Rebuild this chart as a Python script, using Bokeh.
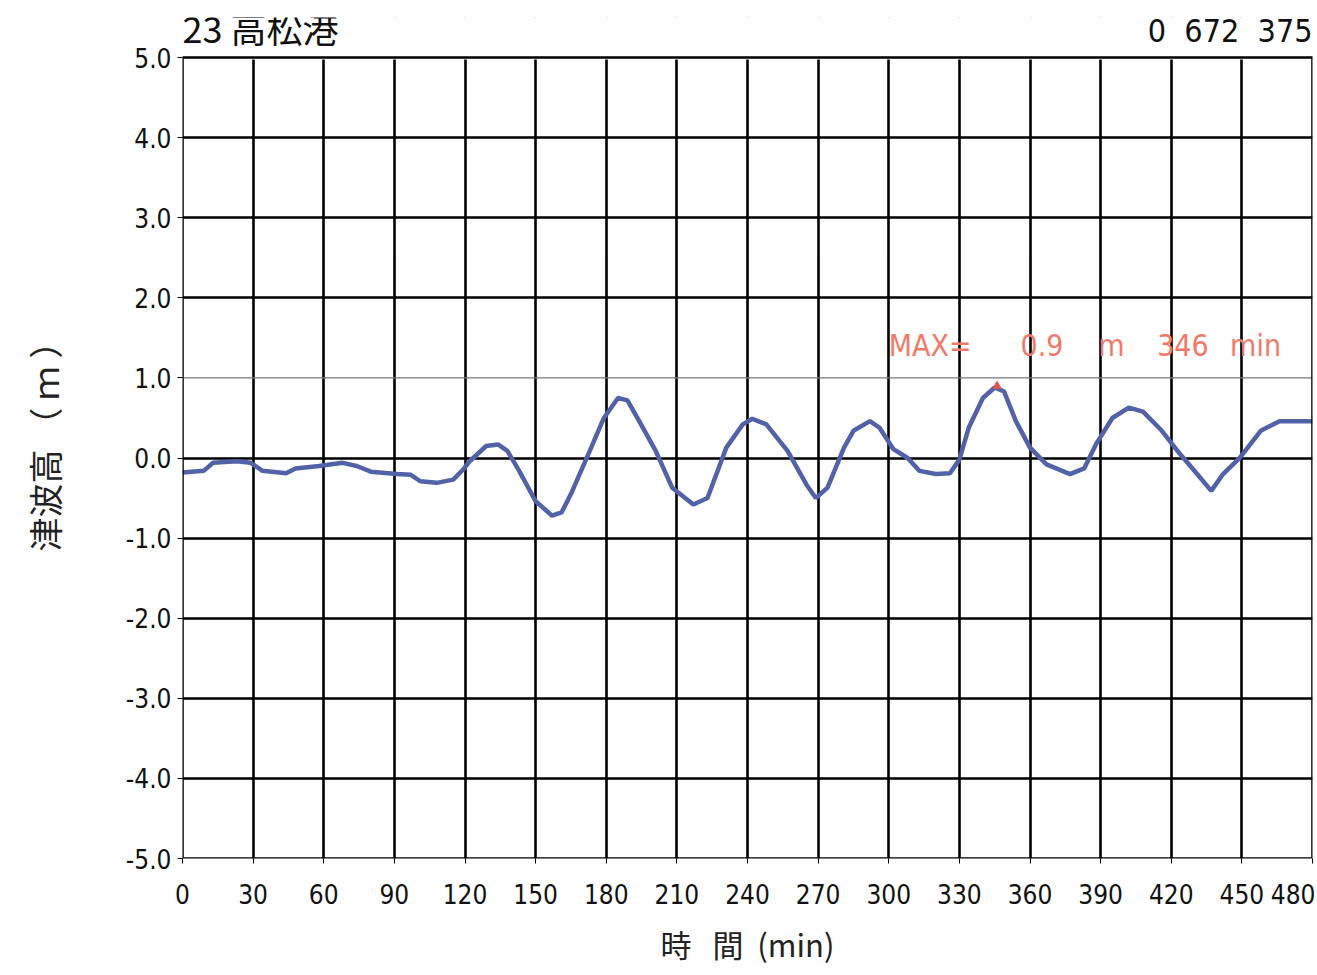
from bokeh.plotting import figure
from bokeh.models import Range1d, FixedTicker, Label, Span, CustomJSTickFormatter, BoxAnnotation
from bokeh.embed import file_html
from bokeh.resources import INLINE

# ---- data ----
time_min = [0, 9, 13, 23, 29, 34, 44, 48, 58, 68, 74, 80, 91, 97, 101, 108, 115, 119, 122,
            129, 134, 138, 143, 150, 157, 161, 165, 173, 179, 185, 189, 194, 201, 208, 217,
            223, 231, 238, 242, 248, 257, 265, 269, 274, 281, 285, 292, 296, 302, 308, 313,
            320, 326, 330, 334, 340, 345, 349, 354, 360, 367, 377, 383, 388, 395, 402, 408,
            416, 424, 431, 437, 442, 449, 458, 466, 480]
height_m = [-0.18, -0.16, -0.06, -0.04, -0.06, -0.16, -0.19, -0.13, -0.10, -0.06, -0.10, -0.17,
            -0.20, -0.21, -0.29, -0.31, -0.27, -0.15, -0.04, 0.15, 0.17, 0.09, -0.16, -0.54,
            -0.72, -0.68, -0.45, 0.09, 0.50, 0.75, 0.72, 0.46, 0.09, -0.37, -0.58, -0.50, 0.13,
            0.42, 0.49, 0.42, 0.09, -0.33, -0.50, -0.37, 0.13, 0.34, 0.46, 0.38, 0.11, 0.0,
            -0.16, -0.20, -0.19, -0.02, 0.38, 0.75, 0.88, 0.83, 0.46, 0.13, -0.08, -0.20, -0.13,
            0.17, 0.50, 0.63, 0.58, 0.34, 0.04, -0.20, -0.41, -0.20, 0.0, 0.34, 0.46, 0.46]
max_time = [346]
max_height = [0.9]
x_ticks = [0, 30, 60, 90, 120, 150, 180, 210, 240, 270, 300, 330, 360, 390, 420, 450, 480]
y_ticks = [-5.0, -4.0, -3.0, -2.0, -1.0, 0.0, 1.0, 2.0, 3.0, 4.0, 5.0]
station_title = "23\u00a0高松港"
station_code = "0\u00a0\u00a0672\u00a0\u00a0375"
max_parts = ["MAX=", "0.9", "m", "346", "min"]
max_part_x = [300, 356, 389, 414, 445]
max_label_y = 1.41

NUM_FONT = "'Liberation Sans Narrow', 'DejaVu Sans Condensed', 'Liberation Sans', sans-serif"
JP_FONT = "'Noto Sans CJK JP', sans-serif"

Y_LO, Y_HI, Y_TOP_PAD = -5.0, 5.0, 5.5
LEFT, RIGHT, TOP, BOTTOM = 182, 3, 17, 110
p = figure(width=1315, height=TOP + 841 + BOTTOM, output_backend="svg", toolbar_location=None,
           x_range=Range1d(0, 480), y_range=Range1d(Y_LO, Y_TOP_PAD),
           min_border_left=LEFT, min_border_right=RIGHT, min_border_top=TOP,
           min_border_bottom=BOTTOM)
p.background_fill_color = "white"
p.border_fill_color = "white"
p.outline_line_color = None

# grid
p.xgrid.ticker = FixedTicker(ticks=x_ticks)
p.ygrid.ticker = FixedTicker(ticks=[t for t in y_ticks if t != 1.0])
for g in (p.xgrid, p.ygrid):
    g.grid_line_color = "black"
    g.grid_line_width = 2.6
    g.grid_line_alpha = 1.0
p.add_layout(Span(location=1.0, dimension="width", line_color="#777777", line_width=1.2))
# white strip hiding grid above the 5.0 line (room for the header texts)
p.add_layout(BoxAnnotation(bottom=Y_HI, fill_color="white", fill_alpha=1.0,
                           line_color="white", line_width=4, line_alpha=1.0))
# chart box
p.add_layout(BoxAnnotation(left=0, right=480, bottom=Y_LO, top=Y_HI, fill_alpha=0,
                           line_color="black", line_width=2.6, line_alpha=1.0))

# axes
p.xaxis.ticker = FixedTicker(ticks=x_ticks)
p.yaxis.ticker = FixedTicker(ticks=y_ticks)
p.yaxis.bounds = (Y_LO, Y_HI)
p.yaxis.formatter = CustomJSTickFormatter(code="return tick.toFixed(1);")
for ax in (p.xaxis, p.yaxis):
    ax.axis_line_color = None
    ax.major_tick_line_color = "black"
    ax.major_tick_in = 0
    ax.major_tick_out = 5
    ax.minor_tick_line_color = None
    ax.major_label_text_font = NUM_FONT
    ax.major_label_text_font_size = "26px"
    ax.major_label_text_color = "#111111"
    ax.axis_label_text_font = JP_FONT
    ax.axis_label_text_font_style = "normal"
    ax.axis_label_text_color = "#222222"
p.xaxis.axis_label_text_font_size = "31px"
p.yaxis.axis_label_text_font_size = "34px"
p.xaxis.major_label_standoff = 20
p.yaxis.major_label_standoff = 6
p.xaxis.axis_label = "時\u00a0\u00a0\u00a0間\u00a0\u00a0(min)"
p.yaxis.axis_label = "津波高\u00a0（\u00a0ｍ\u00a0）"
p.xaxis.axis_label_standoff = 14
p.yaxis.axis_label_standoff = 54

# series
p.line(time_min, height_m, line_color="#5262a8", line_width=4.5)
p.scatter(max_time, max_height, marker="triangle", size=8, color="#e8504a")

# header texts above the box
p.add_layout(Label(x=0, y=Y_HI, y_offset=5, text=station_title, text_font=JP_FONT,
                   text_font_size="36px", text_baseline="bottom", text_align="left",
                   text_color="#111111"))
p.add_layout(Label(x=480, y=Y_HI, y_offset=8, text=station_code, text_font=NUM_FONT,
                   text_font_size="32px", text_baseline="bottom", text_align="right",
                   text_color="#111111"))
for txt, xx in zip(max_parts, max_part_x):
    p.add_layout(Label(x=xx, y=max_label_y, text=txt, text_font=NUM_FONT, text_font_size="30px",
                       text_baseline="middle", text_align="left", text_color="#f07a68"))

open("out.html", "w").write(file_html(p, INLINE))
